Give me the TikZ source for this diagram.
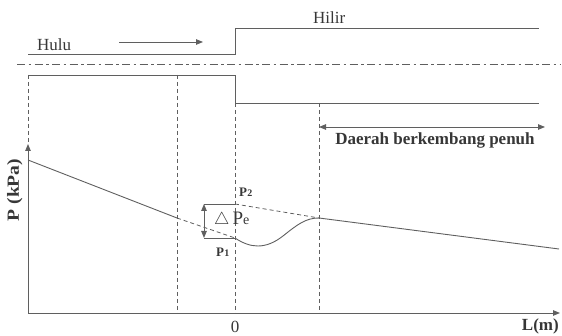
\documentclass[tikz,border=0pt]{standalone}
\usepackage{fontspec}
\setmainfont{Liberation Serif}
\usetikzlibrary{arrows.meta}
\definecolor{ln}{RGB}{95,95,95}
\definecolor{tx}{RGB}{55,55,55}
\tikzset{
  wall/.style={draw=ln, line width=0.9pt},
  guide/.style={draw=ln, line width=0.8pt, dash pattern=on 4pt off 3pt},
  center line/.style={draw=ln, line width=0.8pt, dash pattern=on 8pt off 3.5pt on 2.5pt off 3.5pt},
  tip/.style={-{Triangle[length=7pt,width=5.5pt]}},
  dtip/.style={{Triangle[length=7pt,width=5.5pt]}-{Triangle[length=7pt,width=5.5pt]}},
  lbl/.style={text=tx, inner sep=0pt, font=\fontsize{17}{20}\selectfont},
  blbl/.style={text=tx, inner sep=0pt, font=\fontsize{17}{20}\selectfont\bfseries},
  plbl/.style={text=tx, inner sep=0pt, font=\fontsize{13}{15}\selectfont\bfseries},
}
\begin{document}
\begin{tikzpicture}[x=1pt,y=-1pt]
\useasboundingbox (0,0) rectangle (562,336);
% coordinates
\coordinate (hu0) at (28,54);
\coordinate (hu1) at (235,54);
\coordinate (hi0) at (235,28);
\coordinate (hi1) at (539,28);
\coordinate (lo0) at (28,75);
\coordinate (lo1) at (235,75);
\coordinate (lo2) at (235,103);
\coordinate (lo3) at (539,103);
\coordinate (cl0) at (17,64);
\coordinate (cl1) at (560,64);
\coordinate (O) at (28,313);
\coordinate (xe) at (560,313);
\coordinate (ye) at (28,144);
\coordinate (g1t) at (177,75);
\coordinate (g1b) at (177,313);
\coordinate (g0b) at (235,313);
\coordinate (g2t) at (319,103);
\coordinate (g2b) at (319,313);
\coordinate (c0) at (28,160);
\coordinate (c1) at (177,218);
\coordinate (p1) at (235,238);
\coordinate (p2) at (235,204);
\coordinate (dv) at (319,218);
\coordinate (ce) at (559,249);
\coordinate (a1) at (204,238);
\coordinate (a2) at (204,204);
\coordinate (fa) at (119,42);
\coordinate (fb) at (203,42);
\coordinate (da) at (319,127);
\coordinate (db) at (545,127);

% walls
\draw[wall] (hu0) -- (hu1) -- (hi0) -- (hi1);
\draw[wall] (lo0) -- (lo1) -- (lo2) -- (lo3);
\draw[center line] (cl0) -- (cl1);
% flow arrow
\draw[wall, tip] (fa) -- (fb);
% guides
\draw[guide] (lo0) -- (ye);
\draw[guide] (g1t) -- (g1b);
\draw[guide] (lo2) -- (g0b);
\draw[guide] (g2t) -- (g2b);
% axes
\draw[wall, tip] (O) -- (ye);
\draw[wall, tip] (O) -- (xe);
% pressure curve
\draw[wall] (c0) -- (c1);
\draw[guide] (c1) -- (p1);
\draw[guide] (p2) -- (dv);
\draw[wall] (p1) .. controls (250,248) and (265,250) .. (283,236)
  .. controls (298,224) and (306,218) .. (dv) -- (ce);
% delta P
\draw[wall] (a1) -- (p1);
\draw[wall] (a2) -- (p2);
\draw[wall, dtip] (a2) -- (a1);
% developed region arrow
\draw[wall, dtip] (da) -- (db);

% labels
\node[lbl, anchor=base west] (hulu) at (37,51) {Hulu};
\node[lbl, anchor=base west] (hilir) at (313,24) {Hilir};
\node[blbl, anchor=base] (daerah) at (435,145) {Daerah berkembang penuh};
\node[blbl, anchor=base east] (lm) at (559,331) {L(m)};
\node[lbl, anchor=base] (zero) at (235,333) {0};
\node[blbl, rotate=90, anchor=base, xscale=1.15] (pk) at (19,190) {P (kPa)};
\node[plbl, anchor=base west] (lp2) at (239,197) {P\kern0.3pt{\fontsize{10}{12}\selectfont 2}};
\node[plbl, anchor=base west] (lp1) at (216,257) {P\kern0.3pt{\fontsize{10}{12}\selectfont 1}};
\node[text=tx, inner sep=0pt, anchor=base west] (dp) at (214,225)
  {{\fontsize{17}{20}\selectfont$\triangle$}\kern3pt{\fontsize{19}{22}\selectfont P}{\fontsize{14}{16}\selectfont e}};
\end{tikzpicture}
\end{document}
